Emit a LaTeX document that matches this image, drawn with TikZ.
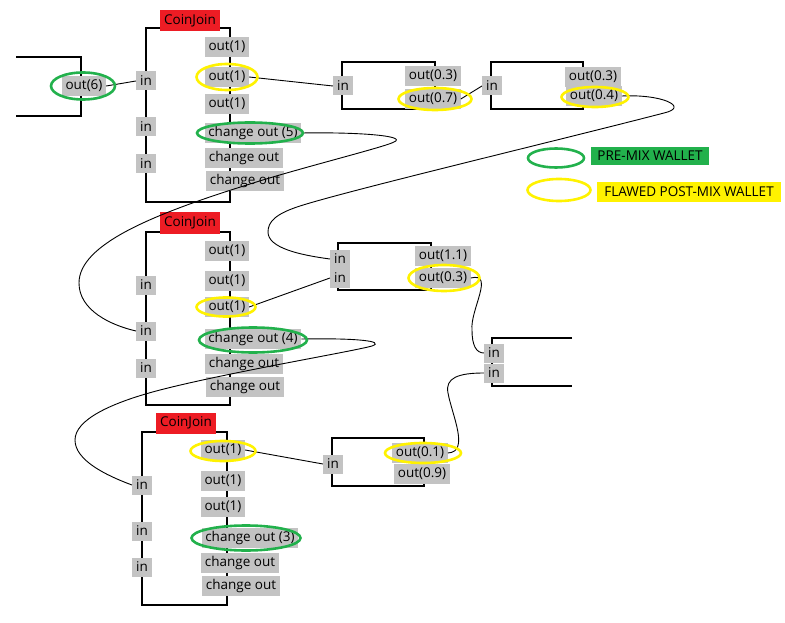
\documentclass[tikz,border=0pt]{standalone}
\usepackage{fontspec}
\setmainfont{Open Sans}
\usetikzlibrary{shapes.geometric}
\definecolor{lblgray}{RGB}{195,195,195}
\definecolor{cjred}{RGB}{237,28,36}
\definecolor{ringgreen}{RGB}{34,177,76}
\definecolor{ringyellow}{RGB}{255,242,0}
\begin{document}
\begin{tikzpicture}[x=1pt,y=-1pt,
 lbl/.style={fill=lblgray, inner xsep=3.5pt, inner ysep=0pt, minimum height=20pt, font=\fontsize{13.5}{15}\selectfont, text=black},
 inlbl/.style={lbl, inner xsep=4pt, minimum height=19pt},
 cj/.style={fill=cjred, inner sep=0pt, minimum height=21pt, minimum width=60pt, font=\fontsize{13.5}{15}\selectfont, text=black},
 frame/.style={draw=black, line width=1.2pt},
 wire/.style={draw=black, line width=0.9pt},
 gring/.style={ellipse, draw=ringgreen, line width=2.6pt, inner sep=0pt},
 yring/.style={ellipse, draw=ringyellow, line width=2.6pt, inner sep=0pt},
 legtxt/.style={inner sep=0pt, font=\fontsize{13.5}{15}\selectfont, text=black},
]
\useasboundingbox (0,0) rectangle (785,623);

% frames
\draw[frame] (16,57) -| (81,116) -- (16,116);
\draw[frame] (146,28) rectangle (230,202);
\draw[frame] (342,62) rectangle (435,109);
\draw[frame] (491,62) rectangle (583,109);
\draw[frame] (146,232) rectangle (230,405);
\draw[frame] (338,243) rectangle (431,290);
\draw[frame] (142,432) rectangle (227,605);
\draw[frame] (332,438) rectangle (424,486);
\draw[frame] (572,338) -| (492,386) -- (572,386);

% CoinJoin titles
\node[cj] (cj1) at (190,21) {CoinJoin};
\node[cj] (cj2) at (190,223) {CoinJoin};
\node[cj] (cj3) at (186,423) {CoinJoin};

% top-left wallet
\node[lbl] (o6) at (84,86) {out(6)};

% coinjoin 1
\node[inlbl] (in1a) at (146,81) {in};
\node[inlbl] (in1b) at (146,127) {in};
\node[inlbl] (in1c) at (146,164) {in};
\node[lbl] (o1a) at (227,47) {out(1)};
\node[lbl] (o1b) at (227,77) {out(1)};
\node[lbl] (o1c) at (227,104) {out(1)};
\node[lbl] (co5) at (253,133) {change out (5)};
\node[lbl] (co1d) at (244,158) {change out};
\node[lbl] (co1e) at (245,181) {change out};

% box A
\node[inlbl] (inA) at (343,86) {in};
\node[lbl] (oA1) at (433,76) {out(0.3)};
\node[lbl] (oA2) at (433,99) {out(0.7)};

% box B
\node[inlbl] (inB) at (492,86) {in};
\node[lbl] (oB1) at (593,77) {out(0.3)};
\node[lbl] (oB2) at (594,96) {out(0.4)};

% legend
\node[legtxt, fill=ringgreen, minimum width=118pt, minimum height=18pt] (legG) at (650,156) {PRE-MIX WALLET};
\node[legtxt, fill=ringyellow, minimum width=184pt, minimum height=20pt] (legY) at (689,192) {FLAWED POST-MIX WALLET};

% coinjoin 2
\node[inlbl] (in2a) at (146,285) {in};
\node[inlbl] (in2b) at (146,331) {in};
\node[inlbl] (in2c) at (146,368) {in};
\node[lbl] (o2a) at (227,251) {out(1)};
\node[lbl] (o2b) at (227,281) {out(1)};
\node[lbl] (o2c) at (227,307) {out(1)};
\node[lbl] (co4) at (253,339) {change out (4)};
\node[lbl] (co2d) at (244,364) {change out};
\node[lbl] (co2e) at (245,387) {change out};

% box C
\node[inlbl] (inC1) at (340,259) {in};
\node[inlbl] (inC2) at (340,278) {in};
\node[lbl] (oC1) at (443,256) {out(1.1)};
\node[lbl] (oC2) at (443,278) {out(0.3)};

% box D
\node[inlbl] (inD1) at (494,353) {in};
\node[inlbl] (inD2) at (494,373) {in};

% coinjoin 3
\node[inlbl] (in3a) at (142,485) {in};
\node[inlbl] (in3b) at (142,531) {in};
\node[inlbl] (in3c) at (142,567) {in};
\node[lbl] (o3a) at (223,450) {out(1)};
\node[lbl] (o3b) at (223,481) {out(1)};
\node[lbl] (o3c) at (223,507) {out(1)};
\node[lbl] (co3) at (250,538) {change out (3)};
\node[lbl] (co3d) at (240,563) {change out};
\node[lbl] (co3e) at (241,586) {change out};

% box E
\node[inlbl] (inE) at (333,464) {in};
\node[lbl] (oE1) at (420,453) {out(0.1)};
\node[lbl] (oE2) at (422,474) {out(0.9)};

% straight connectors
\draw[wire] (o6.east) -- (in1a.west);
\draw[wire] (o1b.east) -- (inA.west);
\draw[wire] (oA2.east) -- (inB.west);
\draw[wire] (o2c.east) -- (inC2.west);
\draw[wire] (o3a.east) -- (inE.west);

% curved connectors
\coordinate (t1) at (394,142);
\coordinate (m1) at (250,184);
\coordinate (l1) at (79,283);
\draw[wire] (co5.east) .. controls (360,132) and (408,136) .. (t1)
  .. controls (385,147) and (300,168) .. (m1)
  .. controls (150,215) and (79,245) .. (l1)
  .. controls (79,310) and (110,325) .. (in2b.west);

\coordinate (t2) at (664,113);
\coordinate (m2) at (300,206);
\coordinate (l2) at (268,232);
\draw[wire] (oB2.east) .. controls (662,94) and (690,107) .. (t2)
  .. controls (560,140) and (350,190) .. (m2)
  .. controls (275,214) and (268,222) .. (l2)
  .. controls (268,248) and (300,255) .. (inC1.west);

\coordinate (t3) at (372,346);
\coordinate (m3) at (160,390);
\coordinate (l3) at (75,440);
\draw[wire] (co4.east) .. controls (355,338) and (386,341) .. (t3)
  .. controls (350,352) and (230,372) .. (m3)
  .. controls (110,403) and (75,420) .. (l3)
  .. controls (75,460) and (105,475) .. (in3a.west);

\coordinate (m4) at (472,330);
\draw[wire] (oC2.east) .. controls (495,272) and (470,310) .. (m4)
  .. controls (472,345) and (476,353) .. (inD1.west);

\coordinate (m5) at (448,393);
\draw[wire] (oE1.east) .. controls (470,452) and (452,415) .. (m5)
  .. controls (445,378) and (458,373) .. (inD2.west);

% rings
\node[gring, minimum width=64pt, minimum height=27pt] (r6) at (83,86) {};
\node[yring, minimum width=61pt, minimum height=26pt] (r1b) at (227,77) {};
\node[gring, minimum width=106pt, minimum height=21pt] (r5) at (250,133) {};
\node[yring, minimum width=73pt, minimum height=22pt] (rA) at (435,99) {};
\node[yring, minimum width=67pt, minimum height=20pt] (rB) at (595,97) {};
\node[gring, minimum width=56pt, minimum height=19pt] (rgl) at (556,158) {};
\node[yring, minimum width=63pt, minimum height=22pt] (ryl) at (559,190) {};
\node[yring, minimum width=59pt, minimum height=19pt] (r2c) at (226,307) {};
\node[gring, minimum width=108pt, minimum height=25pt] (r4) at (253,340) {};
\node[yring, minimum width=71pt, minimum height=26pt] (rC) at (444,278) {};
\node[yring, minimum width=65pt, minimum height=20pt] (r3a) at (223,451) {};
\node[gring, minimum width=109pt, minimum height=25pt] (r3) at (246,538) {};
\node[yring, minimum width=76pt, minimum height=20pt] (rE) at (423,453) {};
\end{tikzpicture}
\end{document}
